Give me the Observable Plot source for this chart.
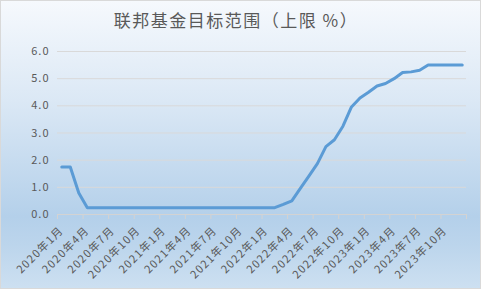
<!DOCTYPE html>
<html><head><meta charset="utf-8">
<script src="https://cdn.jsdelivr.net/npm/d3@7"></script>
<script src="https://cdn.jsdelivr.net/npm/@observablehq/plot@0.6"></script>
<style>
html,body{margin:0;padding:0;background:#fff}
#chart{position:relative;width:481px;height:289px;overflow:hidden;
 background:linear-gradient(to bottom,#f6f9fd 0%,#dbe8f5 35%,#b4d0ea 75%,#bcd5ec 85%,#cde0f1 100%);
 box-shadow:inset 0 0 0 1px #d9d9d9;font-family:"Noto Sans CJK SC",sans-serif}
#title{position:absolute;left:0;top:10px;width:472px;text-align:center;font-size:17px;letter-spacing:1.5px;color:#595959;line-height:20px}
#chart svg{position:absolute;left:0;top:0;background:transparent}
#chart svg text{letter-spacing:1px}
#chart svg g[aria-label="text"] text{letter-spacing:1.2px}
</style></head><body>
<div id="chart"><div id="title">联邦基金目标范围（上限 %）</div></div>
<script>
const months = [
 "2020年1月","2020年2月","2020年3月","2020年4月","2020年5月","2020年6月","2020年7月","2020年8月","2020年9月","2020年10月","2020年11月","2020年12月",
 "2021年1月","2021年2月","2021年3月","2021年4月","2021年5月","2021年6月","2021年7月","2021年8月","2021年9月","2021年10月","2021年11月","2021年12月",
 "2022年1月","2022年2月","2022年3月","2022年4月","2022年5月","2022年6月","2022年7月","2022年8月","2022年9月","2022年10月","2022年11月","2022年12月",
 "2023年1月","2023年2月","2023年3月","2023年4月","2023年5月","2023年6月","2023年7月","2023年8月","2023年9月","2023年10月","2023年11月","2023年12月"
];
const rates = [
 1.75,1.75,0.79,0.25,0.25,0.25,0.25,0.25,0.25,0.25,0.25,0.25,
 0.25,0.25,0.25,0.25,0.25,0.25,0.25,0.25,0.25,0.25,0.25,0.25,
 0.25,0.25,0.37,0.50,0.96,1.41,1.87,2.50,2.75,3.25,3.96,4.29,
 4.50,4.73,4.82,5.00,5.23,5.25,5.31,5.50,5.50,5.50,5.50,5.50
];
const yTicks = [0,1,2,3,4,5,6];
const labelEvery = 3;

const series = rates.map((v,i)=>({i, v, month: months[i]}));
const labelRows = series.filter(d => d.i % labelEvery === 0);
const boundaries = d3.range(-0.5, months.length, labelEvery);

const textColor = "#595959";
const chart = Plot.plot({
  width: 481, height: 289,
  marginLeft: 57, marginRight: 15, marginTop: 51, marginBottom: 75,
  x: {type: "linear", domain: [-0.5, months.length - 0.5], axis: null},
  y: {domain: [0, 6], axis: null},
  style: {background: "transparent", fontFamily: "'Noto Sans CJK SC', sans-serif", color: textColor, overflow: "visible"},
  marks: [
    Plot.ruleY(yTicks, {stroke: "#d9d9d9", strokeWidth: 1}),
    Plot.ruleY([0], {stroke: "#d3d3d3", strokeWidth: 1.2}),
    Plot.axisX(boundaries, {anchor: "bottom", tickSize: 5, tickFormat: () => "", stroke: "#d3d3d3", label: null}),
    Plot.axisY(yTicks, {anchor: "left", tickSize: 0, tickPadding: 8, tickFormat: d => d.toFixed(1), fill: textColor, fontSize: 11, label: null}),
    Plot.line(series, {x: "i", y: "v", stroke: "#5b9bd5", strokeWidth: 3, strokeLinejoin: "round", strokeLinecap: "round"}),
    Plot.text(labelRows, {x: "i", y: () => 0, text: "month", rotate: -45, textAnchor: "end", lineAnchor: "middle", dy: 14, fill: textColor, fontSize: 11})
  ]
});
document.getElementById("chart").appendChild(chart);
</script>
</body></html>
